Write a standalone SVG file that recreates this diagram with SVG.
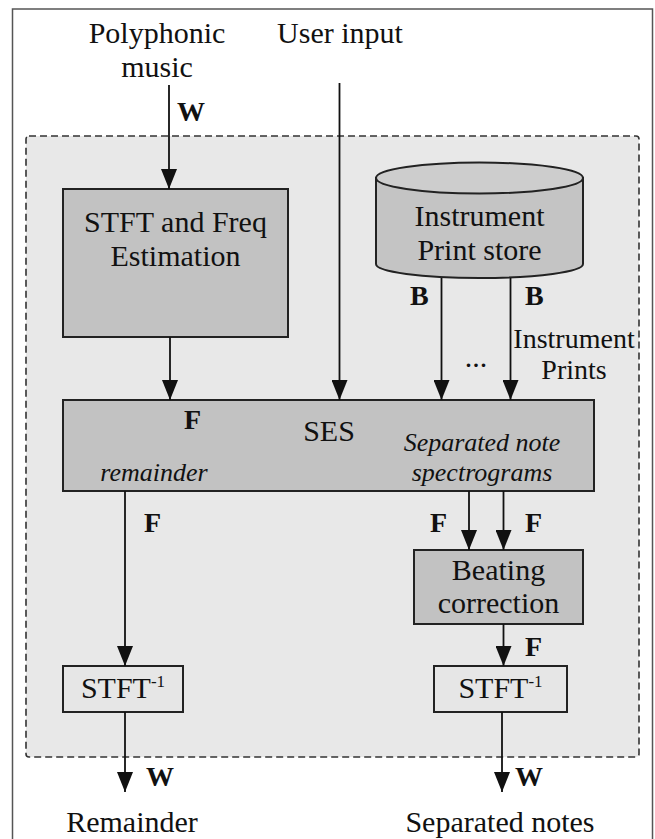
<svg xmlns="http://www.w3.org/2000/svg" width="655" height="839" viewBox="0 0 655 839">
  <style>
    text { font-family: "Liberation Serif", "DejaVu Serif", "Times New Roman", serif; }
    .t { font-size: 30px; fill: #111; text-anchor: middle; }
    .s { font-size: 28px; }
    .it { font-style: italic; font-size: 26px; }
    .b { font-weight: bold; font-size: 28px; text-anchor: start; }
    .box { fill: #c2c2c2; stroke: #222; stroke-width: 2; }
    .lbox { fill: #e6e6e6; stroke: #222; stroke-width: 2; }
    .wire { fill: none; stroke: #111; stroke-width: 1.8; }
  </style>
  <defs>
    <marker id="arrow" viewBox="0 0 20 16" refX="20" refY="8" markerWidth="20" markerHeight="16" markerUnits="userSpaceOnUse" orient="auto">
      <path d="M0,0 L20,8 L0,16 z" fill="#111"/>
    </marker>
  </defs>

  <!-- page frame and system boundary -->
  <rect x="0" y="0" width="655" height="839" fill="#ffffff"/>
  <rect x="12.5" y="9" width="640" height="845" fill="none" stroke="#555" stroke-width="1.5"/>
  <rect id="system" x="26" y="136" width="613" height="621" rx="3" fill="#e8e8e8" stroke="#333" stroke-width="1.6" stroke-dasharray="7 4"/>

  <!-- external inputs / outputs -->
  <g id="in-poly">
    <text class="t" x="157" y="43">Polyphonic</text>
    <text class="t" x="157" y="77">music</text>
  </g>
  <g id="in-user">
    <text class="t" x="340" y="43">User input</text>
  </g>
  <g id="out-remainder">
    <text class="t" x="132" y="832">Remainder</text>
  </g>
  <g id="out-notes">
    <text class="t" x="500" y="832">Separated notes</text>
  </g>

  <!-- processing blocks -->
  <g id="stft">
    <rect class="box" x="63" y="189" width="225" height="148"/>
    <text class="t" x="175.5" y="232">STFT and Freq</text>
    <text class="t" x="175.5" y="266">Estimation</text>
  </g>

  <g id="store">
    <path d="M376,178 V264 A103.5,14 0 0 0 583,264 V178 z" fill="#c4c4c4" stroke="#222" stroke-width="2"/>
    <ellipse cx="479.5" cy="178" rx="103.5" ry="15.5" fill="#cdcdcd" stroke="#222" stroke-width="2"/>
    <text class="t" x="479.5" y="226">Instrument</text>
    <text class="t" x="479.5" y="260">Print store</text>
  </g>

  <g id="ses">
    <rect class="box" x="63" y="400" width="531" height="91"/>
    <text class="t" x="329" y="441">SES</text>
    <text class="t it" x="482" y="451">Separated note</text>
    <text class="t it" x="482" y="481">spectrograms</text>
    <text class="t it" x="154" y="481">remainder</text>
  </g>

  <g id="beating">
    <rect class="box" x="414" y="550" width="169" height="74"/>
    <text class="t" x="498.5" y="580">Beating</text>
    <text class="t" x="498.5" y="613">correction</text>
  </g>

  <g id="istft-left">
    <rect class="lbox" x="63" y="666" width="120" height="46"/>
    <text class="t" x="123" y="698">STFT<tspan font-size="17" dy="-11">-1</tspan></text>
  </g>

  <g id="istft-right">
    <rect class="lbox" x="434" y="666" width="133" height="46"/>
    <text class="t" x="500.5" y="698">STFT<tspan font-size="17" dy="-11">-1</tspan></text>
  </g>

  <!-- connectors with signal-domain tags -->
  <g id="connectors">
    <path class="wire" d="M169,85 V189" marker-end="url(#arrow)"/>
    <path class="wire" d="M339.5,83 V400" marker-end="url(#arrow)"/>
    <path class="wire" d="M170,337 V400" marker-end="url(#arrow)"/>
    <path class="wire" d="M441.5,278 V400" marker-end="url(#arrow)"/>
    <path class="wire" d="M510.5,278 V400" marker-end="url(#arrow)"/>
    <path class="wire" d="M125,491 V666" marker-end="url(#arrow)"/>
    <path class="wire" d="M469,491 V550" marker-end="url(#arrow)"/>
    <path class="wire" d="M503.5,491 V550" marker-end="url(#arrow)"/>
    <path class="wire" d="M503.5,624 V666" marker-end="url(#arrow)"/>
    <path class="wire" d="M125,712 V792" marker-end="url(#arrow)"/>
    <path class="wire" d="M502,712 V792" marker-end="url(#arrow)"/>

    <text class="t b" x="177" y="121">W</text>
    <text class="t b" x="410" y="305">B</text>
    <text class="t b" x="525" y="305">B</text>
    <text class="t s" x="574" y="348">Instrument</text>
    <text class="t s" x="574" y="379">Prints</text>
    <text class="t" x="476" y="367">...</text>
    <text class="t b" x="184" y="429">F</text>
    <text class="t b" x="144" y="532">F</text>
    <text class="t b" x="430" y="532">F</text>
    <text class="t b" x="525" y="532">F</text>
    <text class="t b" x="525" y="656">F</text>
    <text class="t b" x="146" y="786">W</text>
    <text class="t b" x="515" y="786">W</text>
  </g>
</svg>
